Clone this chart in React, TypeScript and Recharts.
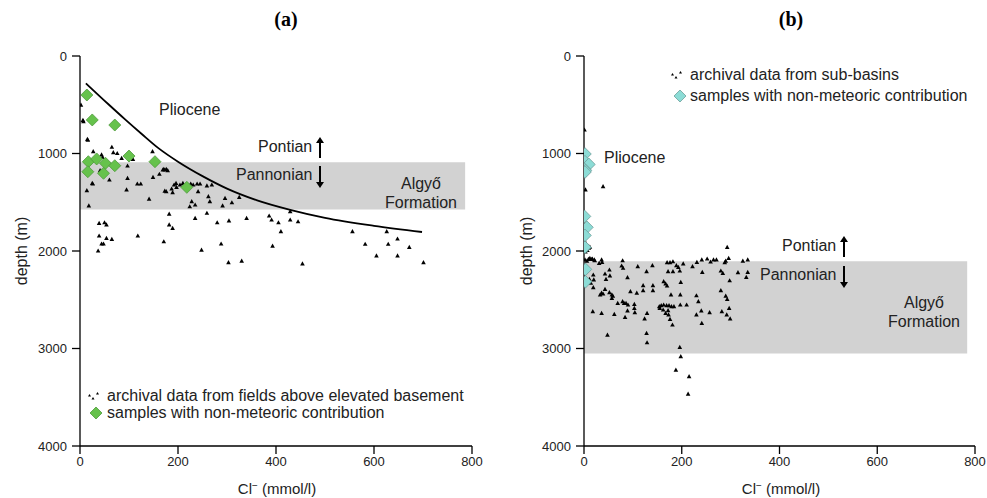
import React from 'react';
import { ComposedChart, Scatter, Line, XAxis, YAxis, ReferenceArea } from 'recharts';

const xTicks = [0, 200, 400, 600, 800];
const yTicks = [0, 1000, 2000, 3000, 4000];

// panel (a): archival data from fields above elevated basement [Cl, depth]
const archivalA: number[][] = [
  [2, 503], [7, 674], [6, 660], [16, 862], [15, 855], [17, 1187], [27, 981], [44, 1015], [65, 936], [68, 992],
  [76, 1000], [85, 1049], [97, 1128], [108, 1060], [46, 1039], [41, 1176], [148, 981], [25, 1306], [14, 1381],
  [18, 1538], [60, 1272], [97, 1255], [95, 1374], [117, 1313], [124, 1313], [141, 1467], [149, 1244], [162, 1213],
  [169, 1169], [173, 1169], [179, 1176], [171, 1162], [176, 1162], [173, 1385], [187, 1364], [192, 1323], [197, 1347],
  [196, 1306], [204, 1323], [210, 1306], [218, 1323], [226, 1313], [231, 1323], [239, 1313], [245, 1313], [259, 1333],
  [269, 1323], [176, 1392], [189, 1402], [241, 1392], [262, 1443], [265, 1494], [296, 1460], [310, 1505], [325, 1449],
  [228, 1494], [235, 1528], [224, 1546], [291, 1538], [182, 1621], [235, 1665], [259, 1613], [280, 1710], [304, 1692],
  [340, 1665], [386, 1641], [391, 1682], [405, 1710], [429, 1597], [429, 1682], [445, 1700], [182, 1733], [189, 1767],
  [171, 1905], [248, 1990], [288, 1928], [303, 2120], [330, 2103], [393, 1949], [410, 1802], [454, 2133], [556, 1802],
  [582, 1931], [605, 2051], [626, 1802], [629, 1931], [648, 1877], [648, 2051], [672, 1962], [701, 2120], [39, 1716],
  [50, 1710], [54, 1733], [39, 1846], [54, 1870], [65, 1880], [44, 1928], [48, 1928], [37, 2000], [118, 1846], [26, 1313],
];

// panel (a): samples with non-meteoric contribution
const samplesA: number[][] = [
  [14, 400], [25, 656], [71, 708], [100, 1026], [153, 1084], [17, 1084], [34, 1056], [52, 1100], [71, 1125],
  [16, 1187], [48, 1203], [218, 1347],
];

// panel (a): mixing curve
const curveA: number[][] = [
  [12, 280], [58, 495], [92, 650], [126, 800], [160, 945], [200, 1084], [250, 1232], [300, 1360], [360, 1478],
  [429, 1578], [500, 1660], [600, 1742], [698, 1805],
];

// panel (b): archival data from sub-basins
const archivalB: number[][] = [
  [1, 759], [3, 1374], [39, 1340], [2, 1100], [1, 1220], [2, 1905], [5, 1956], [8, 1950], [10, 1970], [4, 1985],
  [7, 1995], [12, 1960], [3, 2010], [293, 1962], [296, 2075], [288, 2120], [290, 2103], [12, 2075], [17, 2082],
  [22, 2100], [31, 2127], [37, 2116], [6, 2103], [2, 2092], [9, 2085], [16, 2085], [21, 2092], [36, 2092], [79, 2100],
  [77, 2154], [80, 2177], [110, 2161], [140, 2151], [128, 2212], [170, 2120], [176, 2120], [182, 2110], [189, 2151],
  [193, 2167], [203, 2133], [172, 2212], [182, 2212], [196, 2205], [222, 2161], [231, 2116], [241, 2092], [252, 2082],
  [259, 2113], [265, 2092], [271, 2092], [242, 2219], [280, 2205], [284, 2229], [315, 2222], [325, 2103], [335, 2092],
  [332, 2270], [335, 2219], [298, 2305], [43, 2236], [53, 2256], [52, 2195], [45, 2290], [89, 2274], [19, 2246],
  [20, 2297], [11, 2290], [14, 2331], [19, 2376], [163, 2315], [167, 2338], [170, 2359], [198, 2321], [121, 2356],
  [121, 2407], [141, 2356], [141, 2407], [95, 2417], [108, 2433], [43, 2393], [36, 2433], [39, 2441], [33, 2451],
  [52, 2427], [57, 2451], [57, 2485], [59, 2462], [197, 2451], [178, 2451], [230, 2459], [234, 2520], [280, 2407],
  [290, 2462], [293, 2496], [69, 2537], [79, 2520], [82, 2537], [90, 2554], [86, 2537], [103, 2547], [103, 2588],
  [154, 2571], [158, 2561], [163, 2554], [169, 2561], [174, 2561], [179, 2571], [184, 2571], [162, 2605], [167, 2639],
  [172, 2612], [155, 2588], [197, 2554], [210, 2554], [230, 2656], [240, 2615], [257, 2633], [282, 2622], [297, 2588],
  [292, 2656], [299, 2697], [18, 2622], [36, 2639], [62, 2649], [84, 2680], [89, 2615], [104, 2633], [124, 2697],
  [129, 2639], [176, 2701], [181, 2759], [173, 2656], [48, 2862], [128, 2844], [129, 2941], [241, 2742], [196, 2988],
  [198, 3084], [188, 3221], [215, 3289], [213, 3467],
];

// panel (b): samples with non-meteoric contribution
const samplesB: number[][] = [
  [2, 1005], [2, 1084], [10, 1112], [1, 1162], [3, 1175], [2, 1190], [1, 1645], [6, 1757], [2, 1840], [2, 1962],
  [3, 2188], [3, 2315],
];

// Algyő Formation bands: [x max, depth top, depth bottom]
const bandA = [786, 1090, 1575];
const bandB = [784, 2105, 3050];

const toPts = (arr: number[][]) => arr.map(([x, d]) => ({ x, d }));

const FONT = '"Liberation Sans", Arial, sans-serif';

const Tri = (props: any) => {
  const { cx, cy } = props;
  if (cx == null || cy == null) return null;
  return (
    <polygon
      points={`${cx},${cy - 2.6} ${cx - 2.3},${cy + 1.6} ${cx + 2.3},${cy + 1.6}`}
      fill="#000"
    />
  );
};

const makeDiamond = (fill: string, stroke: string, r: number) => (props: any) => {
  const { cx, cy } = props;
  if (cx == null || cy == null) return null;
  return (
    <polygon
      points={`${cx},${cy - r} ${cx + r},${cy} ${cx},${cy + r} ${cx - r},${cy}`}
      fill={fill}
      stroke={stroke}
      strokeWidth={0.8}
    />
  );
};

const GreenDia = makeDiamond('#66c24c', '#4f9a3c', 6);
const CyanDia = makeDiamond('#8cdcd6', '#6f9e9b', 6.3);

type PanelProps = {
  left: number;
  width: number;
  marginRight: number;
  tri: number[][];
  dia: number[][];
  diaShape: any;
  band: number[];
  curve?: number[][];
};

function Panel({ left, width, marginRight, tri, dia, diaShape, band, curve }: PanelProps) {
  const tickStyle = { fontSize: 13, fill: '#222', fontFamily: FONT };
  return (
    <div style={{ position: 'absolute', left, top: 0 }}>
      <ComposedChart width={width} height={498} margin={{ top: 56, right: marginRight, bottom: 22, left: 0 }}>
        <XAxis
          type="number"
          dataKey="x"
          domain={[0, 800]}
          ticks={xTicks}
          allowDataOverflow
          height={30}
          tickSize={8}
          tickMargin={3}
          stroke="#000"
          strokeWidth={1.3}
          tick={tickStyle}
        />
        <YAxis
          type="number"
          dataKey="d"
          domain={[0, 4000]}
          ticks={yTicks}
          reversed
          allowDataOverflow
          width={80}
          tickSize={8}
          tickMargin={5}
          stroke="#000"
          strokeWidth={1.3}
          tick={tickStyle}
        />
        <ReferenceArea
          x1={0}
          x2={band[0]}
          y1={band[1]}
          y2={band[2]}
          fill="#d2d2d2"
          fillOpacity={1}
          stroke="none"
          ifOverflow="visible"
        />
        {curve && (
          <Line
            data={toPts(curve)}
            dataKey="d"
            type="monotone"
            stroke="#000"
            strokeWidth={1.8}
            dot={false}
            activeDot={false}
            isAnimationActive={false}
          />
        )}
        <Scatter data={toPts(tri)} shape={Tri} isAnimationActive={false} />
        <Scatter data={toPts(dia)} shape={diaShape} isAnimationActive={false} />
      </ComposedChart>
    </div>
  );
}

const txt = (left: number, top: number, s: string, size = 16, extra: any = {}) => (
  <div
    style={{
      position: 'absolute',
      left,
      top,
      fontSize: size,
      lineHeight: `${size}px`,
      fontFamily: FONT,
      color: '#222',
      whiteSpace: 'nowrap',
      transform: 'translateY(-50%)',
      ...extra,
    }}
  >
    {s}
  </div>
);

const ctxt = (cx: number, cy: number, s: React.ReactNode, size = 16, extra: any = {}) => (
  <div
    style={{
      position: 'absolute',
      left: cx,
      top: cy,
      fontSize: size,
      lineHeight: `${size}px`,
      fontFamily: FONT,
      color: '#222',
      whiteSpace: 'nowrap',
      transform: 'translate(-50%, -50%)',
      ...extra,
    }}
  >
    {s}
  </div>
);

const Arrow = ({ x, y1, y2 }: { x: number; y1: number; y2: number }) => {
  // arrow head at y1
  const up = y1 < y2;
  const h = up ? 6 : -6;
  return (
    <svg style={{ position: 'absolute', left: 0, top: 0, overflow: 'visible' }} width={1} height={1}>
      <line x1={x} y1={y1 + h * 0.6} x2={x} y2={y2} stroke="#000" strokeWidth={2} />
      <polygon points={`${x},${y1} ${x - 4},${y1 + h} ${x + 4},${y1 + h}`} fill="#000" />
    </svg>
  );
};

const TriLegend = ({ x, y }: { x: number; y: number }) => (
  <svg style={{ position: 'absolute', left: x, top: y, overflow: 'visible' }} width={12} height={10}>
    <polygon points="1.5,3 0,5.5 3,5.5" fill="#000" />
    <polygon points="5,6 3.5,8.5 6.5,8.5" fill="#000" />
    <polygon points="9.5,1 8,3.5 11,3.5" fill="#000" />
  </svg>
);

const DiaLegend = ({ x, y, fill, stroke }: { x: number; y: number; fill: string; stroke: string }) => (
  <svg style={{ position: 'absolute', left: x - 6, top: y - 6, overflow: 'visible' }} width={12} height={12}>
    <polygon points="6,0 12,6 6,12 0,6" fill={fill} stroke={stroke} strokeWidth={0.8} />
  </svg>
);

const ClLabel = () => (
  <span>
    Cl<sup style={{ fontSize: 10, verticalAlign: 'top', lineHeight: '10px' }}>−</sup> (mmol/l)
  </span>
);

export default function App() {
  return (
    <div style={{ position: 'absolute', left: 0, top: 0, width: 987, height: 498, background: '#fff', overflow: 'hidden' }}>
      <Panel left={0} width={490} marginRight={18} tri={archivalA} dia={samplesA} diaShape={GreenDia} band={bandA} curve={curveA} />
      <Panel left={504} width={483} marginRight={12} tri={archivalB} dia={samplesB} diaShape={CyanDia} band={bandB} />

      {/* titles */}
      {ctxt(286, 19, '(a)', 20, { fontFamily: '"Liberation Serif", "Times New Roman", serif', fontWeight: 'bold', color: '#000' })}
      {ctxt(791, 19, '(b)', 20, { fontFamily: '"Liberation Serif", "Times New Roman", serif', fontWeight: 'bold', color: '#000' })}

      {/* axis labels */}
      {ctxt(22, 251, 'depth (m)', 16, { transform: 'translate(-50%, -50%) rotate(-90deg)' })}
      {ctxt(527, 251, 'depth (m)', 16, { transform: 'translate(-50%, -50%) rotate(-90deg)' })}
      {ctxt(277, 488, <ClLabel />, 15)}
      {ctxt(781, 488, <ClLabel />, 15)}

      {/* panel (a) annotations */}
      {txt(159, 110, 'Pliocene', 16)}
      {txt(258, 147, 'Pontian', 16)}
      <Arrow x={320} y1={137} y2={158} />
      {txt(236, 175, 'Pannonian', 16)}
      <Arrow x={320} y1={188} y2={166} />
      {ctxt(421, 184, 'Algyő', 16)}
      {ctxt(421, 203, 'Formation', 16)}

      {/* panel (b) annotations */}
      {txt(604, 158, 'Pliocene', 16)}
      {txt(782, 246, 'Pontian', 16)}
      <Arrow x={844} y1={236} y2={257} />
      {txt(760, 275, 'Pannonian', 16)}
      <Arrow x={844} y1={288} y2={266} />
      {ctxt(924, 303, 'Algyő', 16)}
      {ctxt(924, 322, 'Formation', 16)}

      {/* legend (a) */}
      <TriLegend x={88} y={391} />
      {txt(107, 396, 'archival data from fields above elevated basement', 16)}
      <DiaLegend x={96} y={413} fill="#66c24c" stroke="#4f9a3c" />
      {txt(107, 413, 'samples with non-meteoric contribution', 16)}

      {/* legend (b) */}
      <TriLegend x={671} y={70} />
      {txt(690, 75, 'archival data from sub-basins', 16)}
      <DiaLegend x={680} y={96} fill="#8cdcd6" stroke="#6f9e9b" />
      {txt(690, 96, 'samples with non-meteoric contribution', 16)}
    </div>
  );
}
